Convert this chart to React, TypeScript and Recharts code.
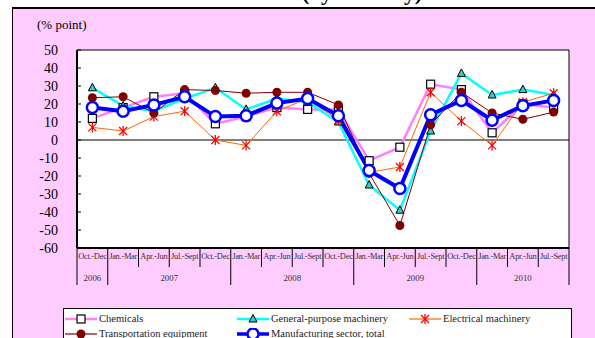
import React from "react";
import { LineChart, Line, XAxis, YAxis, ReferenceArea, ReferenceLine } from "recharts";

const quarters = [
  "Oct.-Dec", "Jan.-Mar", "Apr.-Jun", "Jul.-Sept", "Oct.-Dec",
  "Jan.-Mar", "Apr.-Jun", "Jul.-Sept", "Oct.-Dec",
  "Jan.-Mar", "Apr.-Jun", "Jul.-Sept", "Oct.-Dec",
  "Jan.-Mar", "Apr.-Jun", "Jul.-Sept",
];
const years = ["2006", "2007", "2008", "2009", "2010"];
const yearSpans = [1, 4, 4, 4, 3];

const chemicals = [12, 18, 24, 26, 9, 13, 18, 17, 17, -11.5, -4, 31, 28, 4, 20, 18];
const generalPurpose = [29, 19, 16, 23, 29, 17, 23, 21, 10, -25, -39, 5, 37, 25, 28, 25];
const electrical = [7, 5, 13, 16, 0, -3, 16, 23, 11, -18, -15, 26.5, 10.5, -3, 21, 26];
const transportation = [23.5, 24, 15, 28, 27.5, 26, 26.5, 26.5, 19.5, -18.5, -47.5, 8.5, 26.5, 15, 11.5, 15.5];
const manufacturing = [18, 16, 19.5, 24, 13, 13.5, 20.5, 23, 13.5, -17, -27, 14, 22, 11, 19, 22];

const yTicks = [-60, -50, -40, -30, -20, -10, 0, 10, 20, 30, 40, 50];

const data = quarters.map((q, i) => ({
  q: `${i}`,
  chem: chemicals[i],
  gen: generalPurpose[i],
  elec: electrical[i],
  trans: transportation[i],
  total: manufacturing[i],
}));

const serif = "'Liberation Serif', 'Times New Roman', serif";

const yearStarts: number[] = [];
yearSpans.reduce((acc, s) => {
  yearStarts.push(acc);
  return acc + s;
}, 0);

const SquareDot = (p: any) => (
  <rect key={p.index} x={p.cx - 4} y={p.cy - 4} width={8} height={8} fill="#fff" stroke="#000" strokeWidth={1.2} />
);
const TriDot = (p: any) => (
  <path key={p.index} d={`M${p.cx},${p.cy - 4.5} L${p.cx + 4},${p.cy + 3} L${p.cx - 4},${p.cy + 3} Z`} fill="#33cccc" stroke="#000" strokeWidth={1} />
);
const StarDot = (p: any) => (
  <g key={p.index} stroke="#ff0000" strokeWidth={1.3}>
    <line x1={p.cx - 4} y1={p.cy - 4} x2={p.cx + 4} y2={p.cy + 4} />
    <line x1={p.cx - 4} y1={p.cy + 4} x2={p.cx + 4} y2={p.cy - 4} />
    <line x1={p.cx} y1={p.cy - 5} x2={p.cx} y2={p.cy + 5} />
  </g>
);
const BrownDot = (p: any) => <circle key={p.index} cx={p.cx} cy={p.cy} r={4.5} fill="#800000" />;
const RingDot = (p: any) => (
  <circle key={p.index} cx={p.cx} cy={p.cy} r={5.5} fill="#fff" stroke="#0000ff" strokeWidth={2.5} />
);

const series = [
  { key: "chem", name: "Chemicals", color: "#ff80ff", width: 2.5, dot: SquareDot },
  { key: "gen", name: "General-purpose machinery", color: "#00ffff", width: 2.5, dot: TriDot },
  { key: "elec", name: "Electrical machinery", color: "#ff6600", width: 1, dot: StarDot },
  { key: "trans", name: "Transportation equipment", color: "#800000", width: 1, dot: BrownDot },
  { key: "total", name: "Manufacturing sector, total", color: "#0000ff", width: 4, dot: RingDot },
];

const YTick = (p: any) => (
  <g>
    <line x1={p.x} x2={p.x + 4} y1={p.y} y2={p.y} stroke="#000" />
    <text x={p.x - 19} y={p.y + 5} textAnchor="end" fontFamily={serif} fontSize={14} fill="#000">
      {p.payload.value}
    </text>
  </g>
);

const XTick = (p: any) => {
  const i = p.index;
  const bw = p.width / quarters.length;
  const left = p.x - bw / 2;
  const yi = yearStarts.indexOf(i);
  const els: any[] = [];
  els.push(
    <line key="s" x1={left} x2={left} y1={p.y} y2={p.y + (yi >= 0 ? 37 : 19)} stroke="#000" strokeWidth={1} />
  );
  if (i === quarters.length - 1) {
    els.push(<line key="e" x1={left + bw} x2={left + bw} y1={p.y} y2={p.y + 37} stroke="#000" />);
  }
  els.push(
    <text key="t" x={p.x} y={p.y + 11} textAnchor="middle" fontFamily={serif} fontSize={8.4} fill="#333" letterSpacing={-0.25}>
      {quarters[i]}
    </text>
  );
  if (yi >= 0) {
    els.push(
      <text key="y" x={left + (yearSpans[yi] * bw) / 2} y={p.y + 33} textAnchor="middle" fontFamily={serif} fontSize={8.8} fill="#333">
        {years[yi]}
      </text>
    );
  }
  return <g>{els}</g>;
};

const LegendIcon = ({ s }: { s: (typeof series)[number] }) => {
  const Dot = s.dot;
  return (
    <svg width={32} height={12} style={{ position: "absolute", left: 0, top: 0 }}>
      <line x1={0} x2={32} y1={6} y2={6} stroke={s.color} strokeWidth={s.width === 4 ? 3.5 : s.width === 1 ? 1.2 : 2.5} />
      <Dot cx={16} cy={6} index={0} />
    </svg>
  );
};

const legendPos = [
  { left: 1, top: 4 },
  { left: 173, top: 4 },
  { left: 345, top: 4 },
  { left: 1, top: 19 },
  { left: 173, top: 19 },
];

export default function App() {
  return (
    <div style={{ position: "absolute", left: 0, top: 0, width: 595, height: 338, overflow: "hidden", background: "#fff" }}>
      <div
        style={{
          position: "absolute",
          left: 12,
          top: 7,
          width: 620,
          height: 360,
          background: "#ffccff",
          borderTop: "2px solid #000",
          borderLeft: "1.5px solid #000",
        }}
      />
      <svg width={595} height={12} style={{ position: "absolute", left: 0, top: 0 }}>
        <text x={302} y={0} fontFamily={serif} fontWeight="bold" fontSize={22} textLength={120} fill="#000">
          (by industry)
        </text>
      </svg>
      <div style={{ position: "absolute", left: 37, top: 17, fontFamily: serif, fontSize: 13, color: "#000" }}>
        (% point)
      </div>
      <div style={{ position: "absolute", left: 0, top: 0 }}>
        <LineChart width={595} height={338} data={data} margin={{ top: 50, right: 26, bottom: 60, left: 0 }}>
          <ReferenceArea y1={-60} y2={50} fill="#fff" fillOpacity={1} stroke="#000" strokeWidth={1} ifOverflow="visible" />
          <ReferenceLine y={0} stroke="#000" strokeWidth={1.2} />
          <XAxis
            dataKey="q"
            scale="band"
            interval={0}
            height={30}
            tickLine={false}
            tickSize={0}
            tickMargin={0}
            axisLine={{ stroke: "#000", strokeWidth: 2 }}
            tick={XTick}
          />
          <YAxis
            domain={[-60, 50]}
            ticks={yTicks}
            width={77}
            interval={0}
            tickLine={false}
            tickSize={0}
            tickMargin={0}
            axisLine={{ stroke: "#000", strokeWidth: 2 }}
            tick={YTick}
          />
          {series.map((s) => (
            <Line
              key={s.key}
              dataKey={s.key}
              type="linear"
              stroke={s.color}
              strokeWidth={s.width}
              dot={s.dot}
              activeDot={false}
              isAnimationActive={false}
            />
          ))}
        </LineChart>
      </div>
      <div
        style={{
          position: "absolute",
          left: 63,
          top: 308,
          width: 507,
          height: 40,
          background: "#fff",
          border: "1px solid #000",
          fontFamily: serif,
          fontSize: 10.5,
          color: "#222",
        }}
      >
        {series.map((s, i) => (
          <div key={s.key} style={{ position: "absolute", left: legendPos[i].left, top: legendPos[i].top, height: 12, whiteSpace: "nowrap" }}>
            <LegendIcon s={s} />
            <span style={{ position: "absolute", left: 34, top: -1, lineHeight: "13px" }}>{s.name}</span>
          </div>
        ))}
      </div>
    </div>
  );
}
